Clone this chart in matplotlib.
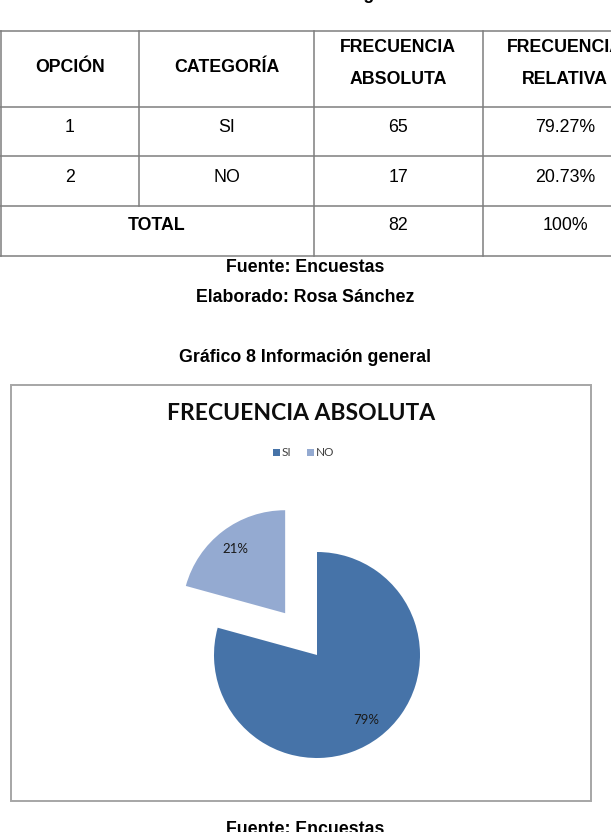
import matplotlib
matplotlib.use("Agg")
import matplotlib.pyplot as plt
from matplotlib.patches import Rectangle

# ---- data ----
opciones = ["1", "2"]
categorias = ["SI", "NO"]
frecuencia_abs = [65, 17]
frecuencia_rel = ["79.27%", "20.73%"]
total_abs = 82
total_rel = "100%"
headers = ["OPCIÓN", "CATEGORÍA", "FRECUENCIA\nABSOLUTA", "FRECUENCIA\nRELATIVA"]
chart_title = "FRECUENCIA ABSOLUTA"
colors = ["#4673A8", "#94AAD1"]

W, H = 611, 832
fig = plt.figure(figsize=(W / 100, H / 100), dpi=100)
fig.patch.set_facecolor("white")

# page axes in pixel coords
ax = fig.add_axes([0, 0, 1, 1])
ax.set_xlim(0, W)
ax.set_ylim(H, 0)
ax.axis("off")

arial = "Liberation Sans"
fs = 12.8

# cut-off caption at top
ax.text(309, -1, "Tabla 8 Información general", ha="center", va="baseline",
        fontsize=fs, fontweight="bold", family=arial)

# ---- table ----
col_x = [0, 139, 314, 483, 660]
row_y = [30.7, 107, 156, 206, 256]
lc = "#7f7f7f"
lw = 1.1
for y in row_y:
    ax.plot([0, W + 5], [y, y], color=lc, lw=lw, solid_capstyle="butt")
ax.plot([0.6, 0.6], [row_y[0], row_y[-1]], color=lc, lw=lw)
ax.plot([col_x[1], col_x[1]], [row_y[0], row_y[3]], color=lc, lw=lw)
for cx in col_x[2:4]:
    ax.plot([cx, cx], [row_y[0], row_y[-1]], color=lc, lw=lw)

centers = [70, 227, 398, 565]
for i, h in enumerate(headers):
    if "\n" in h:
        l1, l2 = h.split("\n")
        ax.text(centers[i], 48, l1, ha="center", va="center", fontsize=fs,
                fontweight="bold", family=arial)
        ax.text(centers[i], 79, l2, ha="center", va="center", fontsize=fs,
                fontweight="bold", family=arial)
    else:
        ax.text(centers[i], 67, h, ha="center", va="center", fontsize=fs,
                fontweight="bold", family=arial)

row_text_y = [128, 177]
for r in range(len(opciones)):
    vals = [opciones[r], categorias[r], str(frecuencia_abs[r]), frecuencia_rel[r]]
    for i, v in enumerate(vals):
        ax.text(centers[i], row_text_y[r], v, ha="center", va="center",
                fontsize=fs, family=arial)
ax.text(157, 226, "TOTAL", ha="center", va="center", fontsize=fs,
        fontweight="bold", family=arial)
ax.text(centers[2], 226, str(total_abs), ha="center", va="center", fontsize=fs, family=arial)
ax.text(centers[3], 226, total_rel, ha="center", va="center", fontsize=fs, family=arial)

ax.text(305, 268, "Fuente: Encuestas", ha="center", va="center", fontsize=fs,
        fontweight="bold", family=arial)
ax.text(305, 298, "Elaborado: Rosa Sánchez", ha="center", va="center", fontsize=fs,
        fontweight="bold", family=arial)
ax.text(305, 357, "Gráfico 8 Información general", ha="center", va="center",
        fontsize=fs, fontweight="bold", family=arial)
ax.text(305, 830, "Fuente: Encuestas", ha="center", va="center", fontsize=fs,
        fontweight="bold", family=arial)

# chart frame
ax.add_patch(Rectangle((10.7, 385), 591 - 10.7, 800.7 - 385, fill=False,
                       edgecolor="#a6a6a6", lw=1.4))

calib = ["Lato", "DejaVu Sans"]
ax.text(301, 414, chart_title, ha="center", va="center", fontsize=16.5,
        fontweight="bold", family=calib, color="#0d0d0d")

# legend
lx = 273
for i, c in enumerate(categorias):
    ax.add_patch(Rectangle((lx, 448.5), 7, 7, color=colors[i], lw=0))
    ax.text(lx + 9, 452, c, ha="left", va="center", fontsize=8.5,
            family=calib, color="#404040")
    lx += 34

# ---- pie ----
R = 103.0
cx, cy = 317.0, 655.0
k = 1.7
side = 2 * R * k
pax = fig.add_axes([(cx - side / 2) / W, (H - cy - side / 2) / H, side / W, side / H])
pax.set_xlim(-k, k)
pax.set_ylim(-k, k)
pax.axis("off")
wedges, texts, autotexts = pax.pie(
    frecuencia_abs, colors=colors, startangle=90, counterclock=False,
    explode=[0, 0.51], autopct="%1.0f%%", pctdistance=0.79,
    wedgeprops=dict(linewidth=0), radius=1.0,
    textprops=dict(fontsize=9.5, family=calib, color="#1a1a1a"))
pax.set_xlim(-k, k)
pax.set_ylim(-k, k)

fig.savefig("out.png", dpi=100)
